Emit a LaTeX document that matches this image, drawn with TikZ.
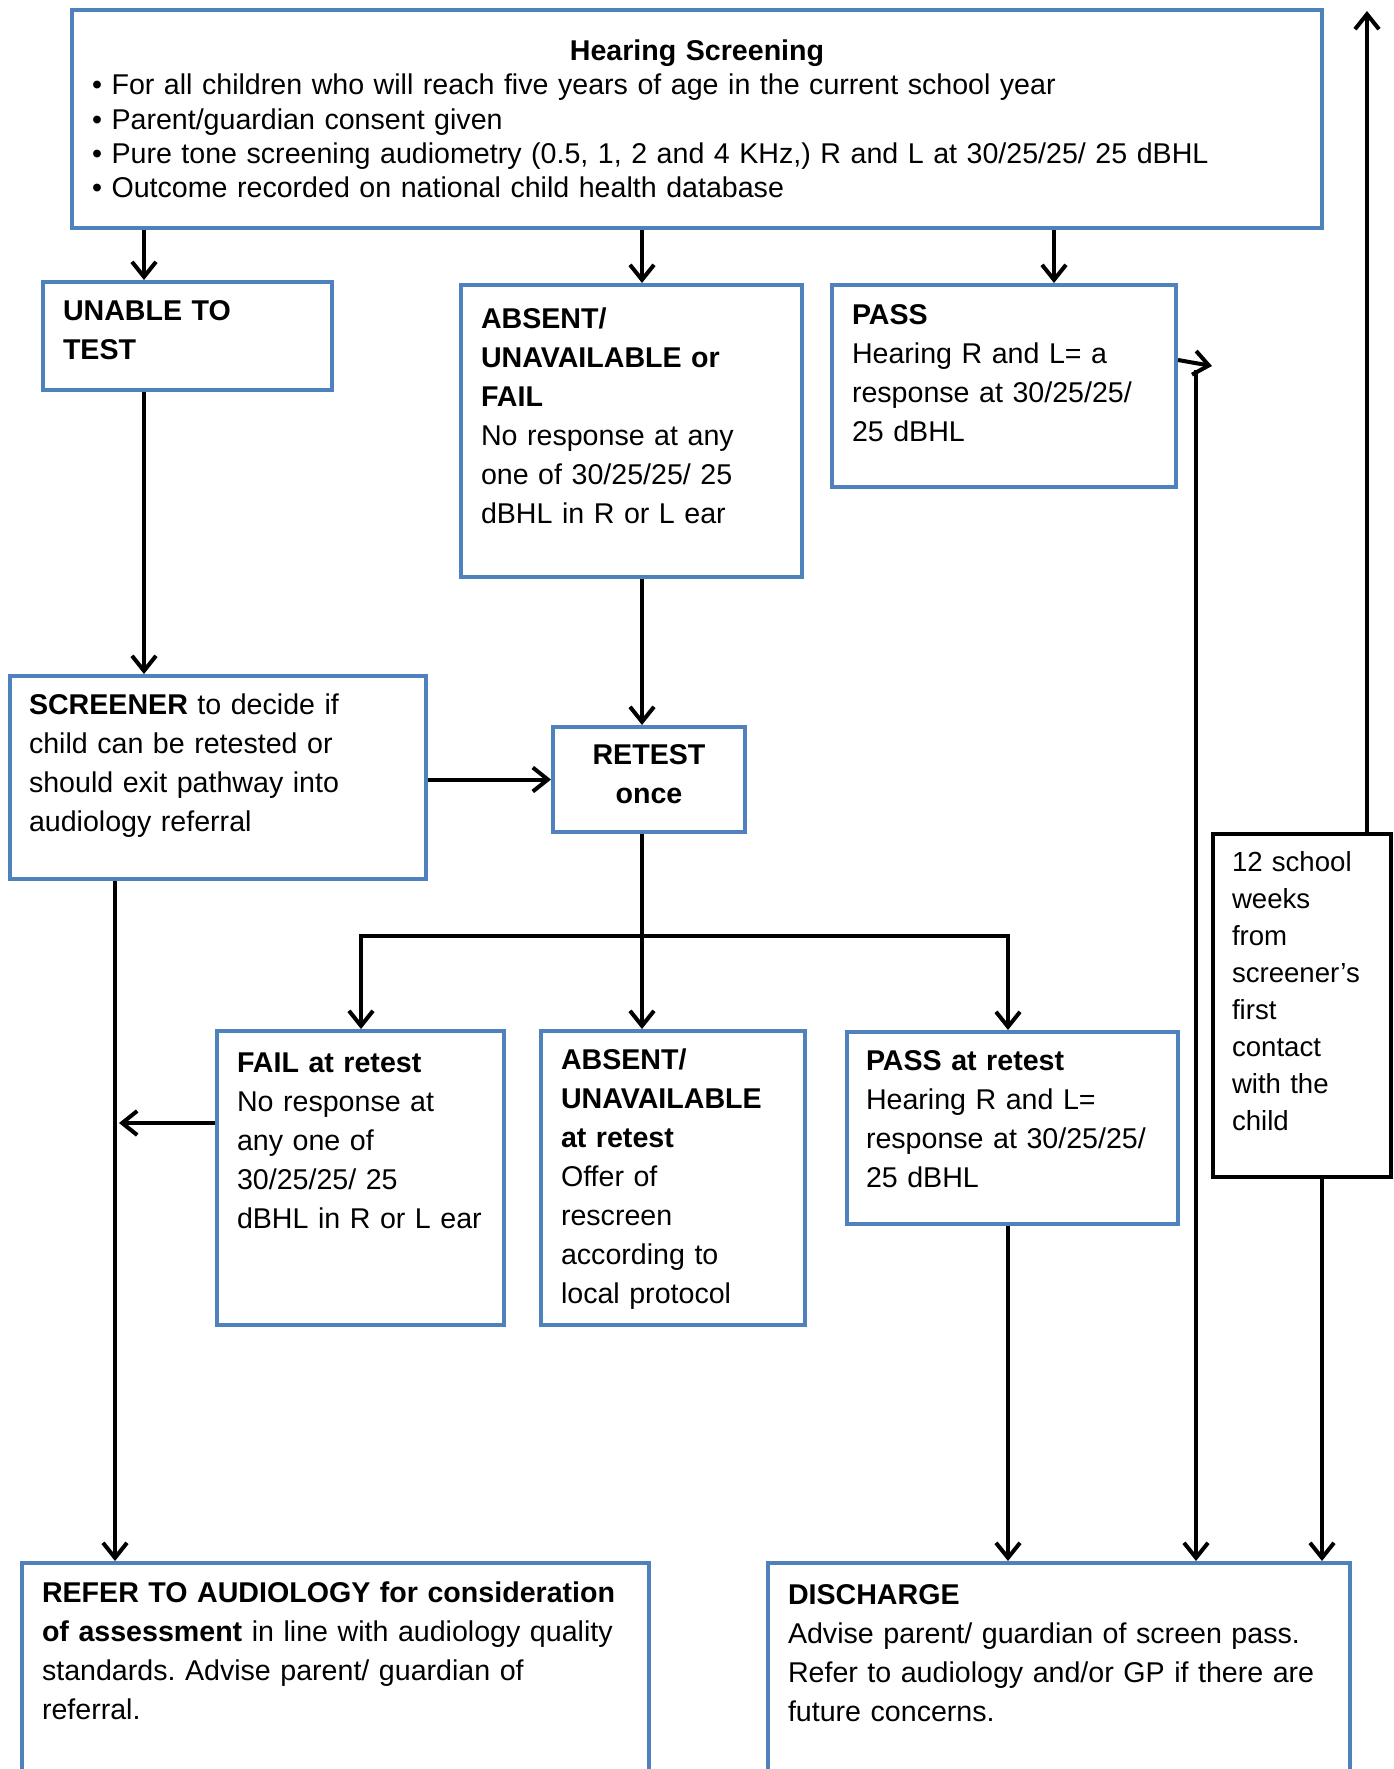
\documentclass[tikz,border=0pt]{standalone}
\usepackage{fontspec}
\setmainfont{Liberation Sans}
\usetikzlibrary{arrows.meta}
\definecolor{boxblue}{RGB}{79,129,189}
\frenchspacing

\begin{document}
\begin{tikzpicture}[x=1pt,y=-1pt,line width=4pt,>={Straight Barb[length=15pt,width=24pt]},
  box/.style={draw=boxblue,anchor=north west,align=left,inner xsep=20pt,inner ysep=0pt,
    text height=39pt,font=\fontsize{28.6}{39}\selectfont}]
  \useasboundingbox (0,0) rectangle (1394,1769);
  \node[box,text width=1210pt,text height=51pt,text depth=167pt,font=\fontsize{28.6}{34}\selectfont] (screening) at (70,8)
    {\makebox[\linewidth]{\textbf{Hearing Screening}}\\
     • For all children who will reach five years of age in the current school year\\
     • Parent/guardian consent given\\
     • Pure tone screening audiometry (0.5, 1, 2 and 4 KHz,) R and L at 30/25/25/ 25 dBHL\\
     • Outcome recorded on national child health database};
  \node[box,text width=249pt,text height=38pt,text depth=70pt] (unable) at (41,280)
    {\textbf{UNABLE TO}\\ \textbf{TEST}};
  \node[box,text width=301pt,text height=43pt,text depth=249pt] (absent) at (459,283)
    {\textbf{ABSENT/}\\ \textbf{UNAVAILABLE or}\\ \textbf{FAIL}\\ No response at any\\ one of 30/25/25/ 25\\ dBHL in R or L ear};
  \node[box,text width=304pt,text depth=163pt] (pass) at (830,283)
    {\textbf{PASS}\\ Hearing R and L= a\\ response at 30/25/25/\\ 25 dBHL};
  \node[box,text width=378pt,inner xsep=19pt,text height=38pt,text depth=165pt] (screener) at (8,674)
    {\textbf{SCREENER} to decide if\\ child can be retested or\\ should exit pathway into\\ audiology referral};
  \node[box,align=center,inner xsep=23pt,text width=146pt,text height=37pt,text depth=68pt] (retest) at (551,725)
    {\textbf{RETEST}\\ \textbf{once}};
  \node[box,text width=247pt,text height=41pt,text depth=253pt] (fail) at (215,1029)
    {\textbf{FAIL at retest}\\ No response at\\ any one of\\ 30/25/25/ 25\\ dBHL in R or L ear};
  \node[box,text width=224pt,text height=38pt,text depth=256pt] (absent2) at (539,1029)
    {\textbf{ABSENT/}\\ \textbf{UNAVAILABLE}\\ \textbf{at retest}\\ Offer of\\ rescreen\\ according to\\ local protocol};
  \node[box,text width=293pt,inner xsep=19pt,text height=38pt,text depth=154pt] (passre) at (845,1030)
    {\textbf{PASS at retest}\\ Hearing R and L=\\ response at 30/25/25/\\ 25 dBHL};
  \node[box,draw=black,text width=140pt,inner xsep=19pt,text height=37pt,text depth=306pt,
    font=\fontsize{27.6}{37}\selectfont] (weeks) at (1211,832)
    {12 school\\ weeks\\ from\\ screener’s\\ first\\ contact\\ with the\\ child};
  \node[box,text width=587pt,text height=39pt,text depth=300pt] (refer) at (20,1561)
    {\textbf{REFER TO AUDIOLOGY for consideration}\\ \textbf{of assessment} in line with audiology quality\\ standards. Advise parent/ guardian of\\ referral.};
  \node[box,text width=542pt,text height=41pt,text depth=300pt] (discharge) at (766,1561)
    {\textbf{DISCHARGE}\\ Advise parent/ guardian of screen pass.\\ Refer to audiology and/or GP if there are\\ future concerns.};

  \coordinate (laneA) at (144,0);
  \coordinate (laneC) at (1054,0);
  \coordinate (laneD) at (115,0);
  \coordinate (laneE) at (361,0);
  \coordinate (laneF) at (1008,0);
  \coordinate (laneG) at (1196,0);
  \coordinate (laneI) at (1322,0);
  \coordinate (split) at (642,936);
  \coordinate (failout) at (119,1123);
  \coordinate (passtip) at (1212,366);
  \coordinate (looptop) at (1367,11);

  \draw[->] (screening.south -| laneA) -- (unable.north -| laneA);
  \draw[->] (screening.south -| split) -- (absent.north -| split);
  \draw[->] (screening.south -| laneC) -- (pass.north -| laneC);
  \draw[->] (unable.south -| laneA) -- (screener.north -| laneA);
  \draw[->] (absent.south -| split) -- (retest.north -| split);
  \draw[->] (screener.east |- retest.west) -- (retest.west);
  \draw[->] (retest.south -| split) -- (absent2.north -| split);
  \draw[->] (split) -| (fail.north -| laneE);
  \draw[->] (split) -| (passre.north -| laneF);
  \draw[->] (fail.west |- failout) -- (failout);
  \draw[->] (screener.south -| laneD) -- (refer.north -| laneD);
  \draw[->] (passre.south -| laneF) -- (discharge.north -| laneF);
  \draw[->] ([yshift=26pt]pass.east) -- (passtip);
  \draw[->] (passtip -| laneG) ++(0,4) -- (discharge.north -| laneG);
  \draw[->] (weeks.north -| looptop) -- (looptop);
  \draw[->] (weeks.south -| laneI) -- (discharge.north -| laneI);
\end{tikzpicture}
\end{document}
